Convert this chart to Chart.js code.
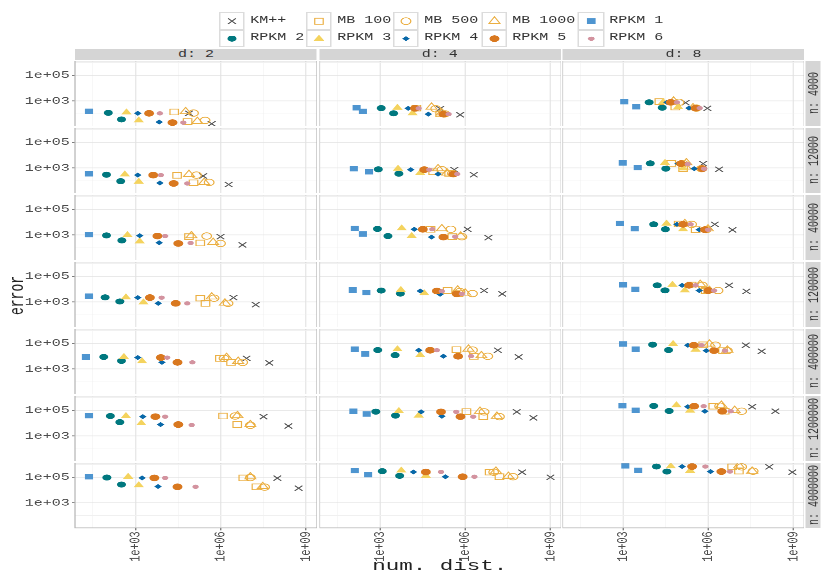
<!DOCTYPE html>
<html>
<head>
<meta charset="utf-8">
<title>error vs num. dist.</title>
<script src="https://cdn.jsdelivr.net/npm/chart.js@4.4.1/dist/chart.umd.min.js"></script>
<style>
  html, body { margin: 0; padding: 0; background: #fff; overflow: hidden; }
  /* the reference is stretched horizontally, so the whole figure is laid out narrow and widened */
  #stage {
    position: absolute; left: 0; top: 0;
    width: 553.33px; height: 572px;
    transform: scaleX(1.5); transform-origin: 0 0;
    font-family: "Liberation Mono", monospace;
  }
  .box { position: absolute; }
  .strip {
    position: absolute; background: #d5d5d5; color: #333; font-size: 10px;
    display: flex; align-items: center; justify-content: center; white-space: pre;
  }
  .strip.side span { writing-mode: vertical-rl; transform: rotate(180deg); }
  .key { position: absolute; border: 0.6px solid #dcdcdc; box-sizing: border-box; background: #fff; }
  .keylab { position: absolute; font-size: 10px; color: #333; white-space: pre; line-height: 12px; }
  #xtitle { position: absolute; text-align: center; font-size: 15px; color: #222; white-space: pre; }
  #ytitle { position: absolute; font-size: 13px; color: #222; writing-mode: vertical-rl; transform: rotate(180deg); }
</style>
</head>
<body>
<div id="stage">
  <div id="xtitle">num. dist.</div>
  <div id="ytitle">error</div>
</div>
<script>
// facets
const D_VALUES = [2, 4, 8];
const N_VALUES = [4000, 12000, 40000, 120000, 400000, 1200000, 4000000];
const SERIES = ['KM++', 'MB 100', 'MB 500', 'MB 1000', 'RPKM 1', 'RPKM 2', 'RPKM 3', 'RPKM 4', 'RPKM 5', 'RPKM 6'];

// axis ticks
const X_TICKS = [1e3, 1e6, 1e9];
const X_GRID = [31.6, 1e3, 3.16e4, 1e6, 3.16e7, 1e9];
const Y_TICKS = [1e3, 1e5];
const Y_GRID = [100, 1e3, 1e4, 1e5, 1e6];
const X_MIN = 7.4, X_MAX = 2.4e9;
const Y_MIN = 11, Y_MAX = 1.3e6;

// one row per n, each row: d2 (two runs), d4 (two runs), d8 (two runs)
const kmDist = [
  [7.6e4, 4.8e5, 1.3e5, 6.6e5, 1.6e5, 9.3e5],
  [2.4e5, 1.9e6, 4.1e5, 2.0e6, 6.6e5, 2.4e6],
  [9.8e5, 5.8e6, 1.2e6, 6.5e6, 1.7e6, 7.1e6],
  [2.8e6, 1.7e7, 4.6e6, 2.0e7, 5.4e6, 2.2e7],
  [8.1e6, 5.1e7, 1.4e7, 7.6e7, 2.1e7, 7.6e7],
  [3.2e7, 2.4e8, 6.5e7, 2.5e8, 3.5e7, 2.3e8],
  [9.8e7, 5.5e8, 1.0e8, 1.0e9, 1.4e8, 9.1e8]
];
const kmErr = [
  [110, 17, 250, 85, 740, 270],
  [240, 52, 740, 300, 2200, 790],
  [740, 170, 2800, 620, 6800, 2500],
  [2200, 620, 7800, 4300, 2.0e4, 6800],
  [6800, 3000, 2.9e4, 8700, 7.1e4, 2.4e4],
  [3.2e4, 6000, 7.6e4, 2.6e4, 1.9e5, 8.5e4],
  [8.5e4, 1.4e4, 2.5e5, 1.0e5, 6.5e5, 2.5e5]
];
const mb100Dist = [
  [2.3e4, 6.8e4, 1.9e4, 1.3e5, 1.9e4, 6.9e4],
  [2.9e4, 1.1e5, 7.4e4, 2.7e5, 5.0e4, 1.3e5],
  [7.6e4, 1.9e5, 6.0e4, 3.5e5, 9.1e4, 3.6e5],
  [1.9e5, 2.9e5, 2.4e5, 5.8e5, 2.6e5, 8.1e5],
  [9.3e5, 2.3e6, 4.9e5, 2.0e6, 6.6e5, 3.3e6],
  [1.2e6, 3.8e6, 1.1e6, 4.3e6, 1.5e6, 3.8e6],
  [6.2e6, 1.8e7, 7.2e6, 1.6e7, 6.9e6, 1.2e7]
];
const mb100Err = [
  [140, 25, 280, 100, 890, 340],
  [270, 71, 510, 380, 2300, 890],
  [740, 240, 2800, 740, 7200, 2600],
  [2000, 790, 7800, 4500, 2.1e4, 7800],
  [6800, 3300, 3.2e4, 9800, 7.6e4, 2.7e4],
  [3.6e4, 7800, 7.9e4, 3.2e4, 2.1e5, 8.5e4],
  [8.9e4, 1.8e4, 2.5e5, 1.1e5, 6.5e5, 3.0e5]
];
const mb500Dist = [
  [1.1e5, 2.8e5, 9.1e4, 1.9e5, 9.3e4, 3.8e5],
  [1.4e5, 3.9e5, 1.5e5, 3.5e5, 1.3e5, 5.8e5],
  [3.2e5, 9.8e5, 3.1e5, 7.6e5, 2.6e5, 8.5e5],
  [5.8e5, 1.8e6, 6.5e5, 1.8e6, 6.2e5, 2.2e6],
  [1.3e6, 5.9e6, 1.8e6, 6.2e6, 1.8e6, 4.7e6],
  [3.2e6, 1.1e7, 4.6e6, 1.6e7, 2.5e6, 1.5e7],
  [1.1e7, 3.5e7, 1.0e7, 4.8e7, 1.5e7, 3.8e7]
];
const mb500Err = [
  [115, 31, 250, 100, 790, 280],
  [280, 76, 740, 380, 2200, 890],
  [830, 220, 2800, 740, 6800, 2600],
  [2000, 790, 6500, 4500, 2.0e4, 7800],
  [6800, 3300, 3.0e4, 9800, 7.1e4, 2.7e4],
  [3.6e4, 6900, 7.6e4, 3.2e4, 2.1e5, 8.5e4],
  [9.5e4, 1.7e4, 2.5e5, 1.1e5, 6.5e5, 3.0e5]
];
const mb1000Dist = [
  [5.8e4, 1.5e5, 6.5e4, 1.5e5, 6.0e4, 2.9e5],
  [7.6e4, 2.6e5, 1.1e5, 2.3e5, 1.7e5, 1.6e5],
  [9.3e4, 5.4e5, 1.5e5, 6.9e5, 1.5e5, 9.8e5],
  [4.8e5, 1.4e6, 5.4e5, 1.0e6, 5.2e5, 1.1e6],
  [1.6e6, 4.1e6, 1.3e6, 3.7e6, 1.1e6, 4.7e6],
  [3.9e6, 1.1e7, 3.3e6, 1.3e7, 2.9e6, 8.5e6],
  [1.1e7, 3.0e7, 1.2e7, 3.3e7, 1.2e7, 3.5e7]
];
const mb1000Err = [
  [150, 26, 340, 120, 1000, 300],
  [320, 76, 890, 410, 2600, 1200],
  [890, 270, 3100, 830, 7800, 3000],
  [2500, 830, 8700, 5000, 2.4e4, 8100],
  [8100, 4000, 3.6e4, 1.1e4, 8.9e4, 3.0e4],
  [3.9e4, 7800, 8.5e4, 3.5e4, 2.5e5, 1.0e5],
  [1.1e5, 1.9e4, 3.0e5, 1.2e5, 7.8e5, 3.0e5]
];
const r1Dist = [
  [23, 23, 150, 250, 1100, 2900],
  [23, 23, 120, 410, 980, 3300],
  [23, 23, 130, 250, 780, 2600],
  [23, 23, 110, 330, 1000, 2700],
  [18, 18, 130, 300, 1000, 2800],
  [23, 23, 115, 340, 950, 2800],
  [23, 23, 130, 380, 1200, 3400]
];
const r1Err = [
  [155, 155, 300, 155, 890, 360],
  [360, 360, 890, 510, 2500, 1100],
  [1100, 1100, 3300, 1200, 7800, 3100],
  [2800, 2800, 8700, 5400, 2.2e4, 9800],
  [8700, 8700, 3.5e4, 1.5e4, 8.9e4, 3.5e4],
  [3.9e4, 3.9e4, 8.5e4, 5.2e4, 2.3e5, 1.0e5],
  [1.1e5, 1.1e5, 3.4e5, 1.6e5, 7.8e5, 3.5e5]
];
const r2Dist = [
  [110, 320, 1100, 3000, 8300, 2.4e4],
  [95, 300, 870, 4600, 9100, 3.2e4],
  [95, 330, 810, 1900, 1.2e4, 3.1e4],
  [85, 280, 1100, 5200, 1.6e4, 3.0e4],
  [76, 320, 830, 3400, 1.1e4, 4.0e4],
  [130, 280, 710, 3500, 1.2e4, 4.2e4],
  [98, 320, 1200, 4900, 1.5e4, 3.5e4]
];
const r2Err = [
  [120, 37, 280, 110, 790, 300],
  [300, 95, 790, 360, 2300, 890],
  [930, 380, 3000, 830, 6800, 2800],
  [2300, 1100, 7800, 4500, 2.0e4, 8100],
  [8700, 4300, 3.0e4, 1.2e4, 7.9e4, 3.0e4],
  [3.6e4, 1.2e4, 7.9e4, 3.9e4, 2.2e5, 8.9e4],
  [9.5e4, 2.7e4, 3.0e5, 1.3e5, 6.9e5, 2.8e5]
];
const r3Dist = [
  [480, 1300, 4100, 1.4e4, 2.6e4, 8.7e4],
  [420, 1300, 4300, 2.6e4, 3.0e4, 1.3e5],
  [520, 1400, 5800, 1.3e4, 3.4e4, 1.3e5],
  [460, 1900, 5400, 3.6e4, 5.5e4, 1.5e5],
  [390, 1700, 4100, 2.6e4, 5.8e4, 3.6e5],
  [460, 1600, 4600, 2.3e4, 7.6e4, 2.3e5],
  [550, 1300, 5600, 4.1e4, 4.8e4, 2.3e5]
];
const r3Err = [
  [130, 31, 300, 110, 830, 340],
  [320, 85, 890, 410, 2500, 930],
  [1000, 320, 3300, 830, 7800, 2800],
  [2300, 930, 8700, 4800, 2.2e4, 8100],
  [8700, 4000, 3.5e4, 1.2e4, 8.9e4, 3.2e4],
  [3.6e4, 9800, 8.9e4, 3.9e4, 2.5e5, 9.5e4],
  [1.1e5, 2.4e4, 3.4e5, 1.3e5, 7.2e5, 3.2e5]
];
const r4Dist = [
  [1200, 6800, 9800, 5.0e4, 3.5e4, 2.1e5],
  [1200, 7200, 1.2e4, 1.1e5, 8.7e4, 3.2e5],
  [1400, 6800, 1.6e4, 6.5e4, 7.9e4, 4.8e5],
  [1200, 6300, 2.6e4, 1.3e5, 1.2e5, 4.8e5],
  [1200, 8500, 2.3e4, 1.7e5, 1.9e5, 8.5e5],
  [1800, 7600, 2.8e4, 1.5e5, 1.9e5, 7.6e5],
  [1700, 6200, 1.5e4, 2.0e5, 1.2e5, 1.2e6]
];
const r4Err = [
  [110, 23, 270, 95, 790, 280],
  [280, 68, 740, 340, 2200, 890],
  [890, 250, 2800, 690, 6800, 2600],
  [2200, 790, 7200, 4000, 2.0e4, 7800],
  [7800, 3300, 2.9e4, 1.0e4, 7.1e4, 2.7e4],
  [3.2e4, 7800, 7.6e4, 3.5e4, 1.9e5, 8.5e4],
  [8.9e4, 1.9e4, 2.6e5, 1.1e5, 6.9e5, 2.8e5]
];
const r5Dist = [
  [3000, 2.0e4, 1.7e4, 1.7e5, 4.8e4, 3.6e5],
  [4200, 2.2e4, 3.6e4, 3.8e5, 1.1e5, 6.2e5],
  [5900, 3.2e4, 3.2e4, 1.7e5, 1.3e5, 7.6e5],
  [3200, 2.6e4, 1.0e5, 5.0e5, 2.1e5, 1.0e6],
  [7800, 3.0e4, 5.8e4, 5.6e5, 3.1e5, 1.6e6],
  [5000, 3.2e4, 1.4e5, 6.8e5, 3.2e5, 3.1e6],
  [4600, 3.0e4, 4.1e4, 8.1e5, 2.7e5, 2.9e6]
];
const r5Err = [
  [110, 21, 270, 95, 790, 280],
  [280, 63, 740, 340, 2200, 890],
  [830, 220, 2800, 690, 6800, 2600],
  [2200, 790, 7200, 4300, 2.0e4, 7800],
  [7800, 3300, 2.9e4, 9800, 7.1e4, 2.7e4],
  [3.2e4, 7800, 7.6e4, 3.2e4, 2.1e5, 8.5e4],
  [8.9e4, 1.8e4, 2.6e5, 1.1e5, 6.9e5, 2.8e5]
];
const r6Dist = [
  [7200, 4.8e4, 2.3e4, 2.6e5, 7.9e4, 5.0e5],
  [7800, 6.6e4, 5.4e4, 5.2e5, 1.9e5, 7.1e5],
  [1.1e4, 8.7e4, 6.9e4, 4.4e5, 2.4e5, 9.8e5],
  [8300, 6.6e4, 1.5e5, 7.6e5, 3.6e5, 1.6e6],
  [1.3e4, 1.0e5, 1.0e5, 1.6e6, 5.8e5, 3.9e6],
  [1.1e4, 9.5e4, 4.8e5, 1.9e6, 6.9e5, 6.2e6],
  [1.1e4, 1.3e5, 1.4e5, 2.1e6, 7.9e5, 5.8e6]
];
const r6Err = [
  [110, 21, 270, 95, 790, 280],
  [280, 63, 740, 340, 2000, 890],
  [830, 240, 2800, 740, 6800, 2600],
  [2200, 790, 6800, 4300, 2.0e4, 7800],
  [7800, 3300, 2.9e4, 1.0e4, 7.1e4, 2.7e4],
  [3.2e4, 7200, 7.6e4, 3.2e4, 2.1e5, 8.5e4],
  [8.9e4, 1.8e4, 2.6e5, 1.1e5, 6.9e5, 2.8e5]
];

const SERIES_DATA = [
  [kmDist, kmErr], [mb100Dist, mb100Err], [mb500Dist, mb500Err], [mb1000Dist, mb1000Err],
  [r1Dist, r1Err], [r2Dist, r2Err], [r3Dist, r3Err], [r4Dist, r4Err], [r5Dist, r5Err], [r6Dist, r6Err]
];

// marker look per series
const MB_COL = '#ebaf42';
const STYLE = [
  { shape: 'crossRot', r: 3.6, color: '#595959', fill: false, bw: 0.9 },
  { shape: 'rect', r: 4.0, color: MB_COL, fill: false, bw: 0.8 },
  { shape: 'circle', r: 3.2, color: MB_COL, fill: false, bw: 0.8 },
  { shape: 'triangle', r: 4.2, color: MB_COL, fill: false, bw: 0.8 },
  { shape: 'rect', r: 3.8, color: '#4e95d0', fill: true, bw: 0 },
  { shape: 'circle', r: 3.0, color: '#00787f', fill: true, bw: 0 },
  { shape: 'triangle', r: 4.0, color: '#f4d35e', fill: true, bw: 0 },
  { shape: 'rectRot', r: 2.5, color: '#0868a8', fill: true, bw: 0 },
  { shape: 'circle', r: 3.3, color: '#d9781f', fill: true, bw: 0 },
  { shape: 'circle', r: 2.1, color: '#d3939f', fill: true, bw: 0 }
];

// layout (pre-stretch px)
const COL_X = [50.1, 212.6, 375.1];
const PANEL_W = 161.2;
const ROW_Y = [61, 128, 195, 262, 329, 396, 463];
const PANEL_H = 64.5;
const Y_AXIS_W = 48, X_AXIS_H = 40;
const FONT = { family: 'Liberation Mono', size: 10 };

const stage = document.getElementById('stage');

function sciLabel(v) {
  return '1e+' + String(Math.round(Math.log10(v))).padStart(2, '0');
}

const panelFrame = {
  id: 'panelFrame',
  afterDraw(chart) {
    const { ctx, chartArea: a } = chart;
    ctx.save();
    ctx.strokeStyle = '#b3b3b3';
    ctx.lineWidth = 0.8;
    ctx.strokeRect(a.left, a.top, a.right - a.left, a.bottom - a.top);
    ctx.restore();
  }
};

function addBox(left, top, w, h) {
  const div = document.createElement('div');
  div.className = 'box';
  div.style.left = left + 'px';
  div.style.top = top + 'px';
  div.style.width = w + 'px';
  div.style.height = h + 'px';
  const cv = document.createElement('canvas');
  div.appendChild(cv);
  stage.appendChild(div);
  return cv;
}

function gridColor(list) {
  return ctx => (ctx.tick && list.includes(ctx.tick.value)) ? '#e1e1e1' : '#f0f0f0';
}
function gridWidth(list) {
  return ctx => (ctx.tick && list.includes(ctx.tick.value)) ? 0.7 : 0.4;
}
function tickColor(list) {
  return ctx => (ctx.tick && list.includes(ctx.tick.value)) ? '#666' : 'rgba(0,0,0,0)';
}

function drawPanel(r, c) {
  const leftEdge = c === 0;
  const bottomEdge = r === N_VALUES.length - 1;
  const cv = addBox(
    COL_X[c] - (leftEdge ? Y_AXIS_W : 0), ROW_Y[r],
    PANEL_W + (leftEdge ? Y_AXIS_W : 0), PANEL_H + (bottomEdge ? X_AXIS_H : 0)
  );

  const datasets = SERIES.map((name, i) => {
    const st = STYLE[i];
    const [dist, err] = SERIES_DATA[i];
    return {
      label: name,
      data: [0, 1].map(k => ({ x: dist[r][2 * c + k], y: err[r][2 * c + k] })),
      pointStyle: st.shape,
      pointRadius: st.r,
      pointHoverRadius: st.r,
      backgroundColor: st.fill ? st.color : 'rgba(0,0,0,0)',
      borderColor: st.color,
      borderWidth: st.bw,
      order: SERIES.length - i
    };
  });

  new Chart(cv, {
    type: 'scatter',
    data: { datasets },
    options: {
      responsive: true,
      maintainAspectRatio: false,
      animation: false,
      devicePixelRatio: 3,
      events: [],
      layout: { padding: 0, autoPadding: false },
      plugins: { legend: { display: false }, tooltip: { enabled: false } },
      scales: {
        x: {
          type: 'logarithmic', min: X_MIN, max: X_MAX,
          border: { display: false },
          grid: {
            color: gridColor(X_TICKS), lineWidth: gridWidth(X_TICKS),
            drawTicks: bottomEdge, tickLength: 2.5, tickColor: tickColor(X_TICKS), tickWidth: 0.8
          },
          ticks: {
            display: bottomEdge, autoSkip: false, minRotation: 90, maxRotation: 90,
            padding: 1, color: '#4d4d4d', font: FONT,
            callback: v => X_TICKS.includes(v) ? sciLabel(v) : ''
          },
          afterBuildTicks: s => { s.ticks = X_GRID.map(v => ({ value: v, major: X_TICKS.includes(v) })); },
          afterFit: s => { s.height = bottomEdge ? X_AXIS_H : 0; s.paddingLeft = 0; s.paddingRight = 0; }
        },
        y: {
          type: 'logarithmic', min: Y_MIN, max: Y_MAX,
          border: { display: false },
          grid: {
            color: gridColor(Y_TICKS), lineWidth: gridWidth(Y_TICKS),
            drawTicks: leftEdge, tickLength: 2, tickColor: tickColor(Y_TICKS), tickWidth: 0.8
          },
          ticks: {
            display: leftEdge, autoSkip: false, padding: 1.5, color: '#4d4d4d', font: FONT,
            callback: v => Y_TICKS.includes(v) ? sciLabel(v) : ''
          },
          afterBuildTicks: s => { s.ticks = Y_GRID.map(v => ({ value: v, major: Y_TICKS.includes(v) })); },
          afterFit: s => { s.width = leftEdge ? Y_AXIS_W : 0; s.paddingTop = 0; s.paddingBottom = 0; }
        }
      }
    },
    plugins: [panelFrame]
  });
}

N_VALUES.forEach((n, r) => D_VALUES.forEach((d, c) => drawPanel(r, c)));

// strips
function addStrip(text, left, top, w, h, side) {
  const s = document.createElement('div');
  s.className = 'strip' + (side ? ' side' : '');
  s.style.left = left + 'px';
  s.style.top = top + 'px';
  s.style.width = w + 'px';
  s.style.height = h + 'px';
  const span = document.createElement('span');
  span.textContent = text;
  s.appendChild(span);
  stage.appendChild(s);
}
D_VALUES.forEach((d, c) => addStrip('d: ' + d, COL_X[c], 49, PANEL_W, 11, false));
N_VALUES.forEach((n, r) => addStrip('n: ' + n, COL_X[2] + PANEL_W + 0.9, ROW_Y[r], 10.3, PANEL_H, true));

// axis titles
const xt = document.getElementById('xtitle');
xt.style.left = COL_X[0] + 'px';
xt.style.width = (COL_X[2] + PANEL_W - COL_X[0]) + 'px';
xt.style.top = '558px';
const yt = document.getElementById('ytitle');
yt.style.left = '4px';
yt.style.top = '276px';

// legend, two rows of five, each key drawn by a tiny chart
const LEG_X = [146, 204, 262, 320.7, 385.3];
const LEG_Y = [12.3, 29.6];
const KEY = 17.3;
SERIES.forEach((name, i) => {
  const row = Math.floor(i / 5), col = i % 5;
  const x = LEG_X[col], y = LEG_Y[row];
  const keyDiv = document.createElement('div');
  keyDiv.className = 'key';
  keyDiv.style.left = x + 'px';
  keyDiv.style.top = y + 'px';
  keyDiv.style.width = KEY + 'px';
  keyDiv.style.height = KEY + 'px';
  const cv = document.createElement('canvas');
  keyDiv.appendChild(cv);
  stage.appendChild(keyDiv);
  const st = STYLE[i];
  new Chart(cv, {
    type: 'scatter',
    data: { datasets: [{
      data: [{ x: 0, y: 0 }],
      pointStyle: st.shape, pointRadius: st.r,
      backgroundColor: st.fill ? st.color : 'rgba(0,0,0,0)',
      borderColor: st.color, borderWidth: st.bw
    }] },
    options: {
      responsive: true, maintainAspectRatio: false, animation: false,
      devicePixelRatio: 3, events: [], layout: { padding: 0, autoPadding: false },
      plugins: { legend: { display: false }, tooltip: { enabled: false } },
      scales: {
        x: { display: false, min: -1, max: 1 },
        y: { display: false, min: -1, max: 1 }
      }
    }
  });
  const lab = document.createElement('div');
  lab.className = 'keylab';
  lab.style.left = (x + KEY + 3.5) + 'px';
  lab.style.top = (y + KEY / 2 - 6) + 'px';
  lab.textContent = name;
  stage.appendChild(lab);
});
</script>
</body>
</html>
